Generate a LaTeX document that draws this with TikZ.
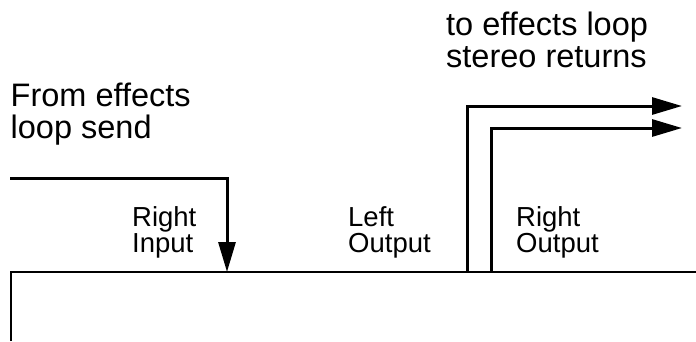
\documentclass[tikz,border=0pt]{standalone}
\usepackage{fontspec}
\setmainfont{Liberation Sans}
\usetikzlibrary{arrows.meta}
\begin{document}
\begin{tikzpicture}[x=1pt,y=-1pt,
  wire/.style={line width=3pt,-{Triangle[length=30pt,width=17pt]}},
  boxline/.style={line width=2.6pt},
  big/.style={font=\fontsize{32.5}{31.5}\selectfont,align=left,inner sep=0pt,anchor=base west},
  small/.style={font=\fontsize{27.5}{26}\selectfont,align=left,inner sep=0pt,anchor=base west}]
\useasboundingbox (0,0) rectangle (696,341);
% box
\coordinate (boxBL) at (11,341);
\coordinate (boxTL) at (11,272);
\coordinate (boxTR) at (696,272);
\draw[boxline] (boxBL) -- (boxTL) -- (boxTR);
% input
\coordinate (inStart) at (10,178);
\coordinate (inEnd) at (227,272);
\draw[wire] (inStart) -| (inEnd);
% outputs
\coordinate (lOut) at (467,272);
\coordinate (lEnd) at (682,106);
\coordinate (rOut) at (491,272);
\coordinate (rEnd) at (682,128);
\draw[wire] (lOut) |- (lEnd);
\draw[wire] (rOut) |- (rEnd);
% labels
\node[big] (from) at (10.5,138) {From effects\\loop send};
\node[big] (to) at (446,67) {to effects loop\\stereo returns};
\node[small] (rin) at (132,252) {Right\\Input};
\node[small] (lout) at (348,252) {Left\\Output};
\node[small] (rout) at (516,252) {Right\\Output};
\end{tikzpicture}
\end{document}
